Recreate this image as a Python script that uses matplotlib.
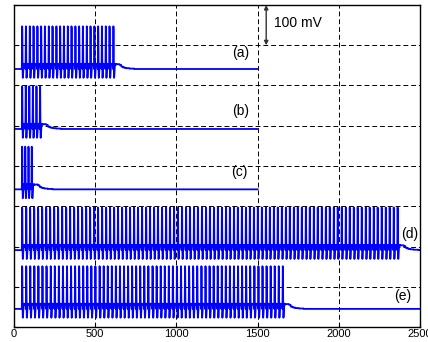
import numpy as np
import matplotlib.pyplot as plt

plt.rcParams['font.family'] = ['Liberation Sans', 'DejaVu Sans']

# spike times (ms)
spikes_a = [48, 71, 95, 118, 142, 165, 188, 212, 235, 259, 282, 305, 329, 352, 376,
            399, 422, 446, 469, 493, 516, 539, 563, 586, 610]
spikes_b = [48, 70, 92, 114, 136, 158]
spikes_c = [48, 67, 87, 107]
spikes_d = [48, 73, 97, 122, 146, 171, 196, 220, 245, 269, 294, 319, 343, 368, 392,
            417, 442, 466, 491, 515, 540, 565, 589, 614, 638, 663, 688, 712, 737, 761,
            786, 811, 835, 860, 884, 909, 934, 958, 983, 1007, 1032, 1057, 1081, 1106,
            1130, 1155, 1180, 1204, 1229, 1253, 1278, 1303, 1327, 1352, 1376, 1401,
            1426, 1450, 1475, 1499, 1524, 1549, 1573, 1598, 1622, 1647, 1672, 1696,
            1721, 1745, 1770, 1795, 1819, 1844, 1868, 1893, 1918, 1942, 1967, 1991,
            2016, 2041, 2065, 2090, 2114, 2139, 2164, 2188, 2213, 2237, 2262, 2287,
            2311, 2336, 2360]
spikes_e = [48, 73, 98, 123, 148, 173, 198, 224, 249, 274, 299, 324, 349, 374, 399,
            424, 449, 474, 499, 525, 550, 575, 600, 625, 650, 675, 700, 725, 750, 775,
            800, 825, 851, 876, 901, 926, 951, 976, 1001, 1026, 1051, 1076, 1101, 1126,
            1152, 1177, 1202, 1227, 1252, 1277, 1302, 1327, 1352, 1377, 1402, 1427,
            1452, 1478, 1503, 1528, 1553, 1578, 1603, 1628, 1653]

all_spikes = [spikes_a, spikes_b, spikes_c, spikes_d, spikes_e]
end_times = [1500, 1500, 1500, 2500, 2500]
rest_levels = [641, 492, 342, 191, 45]   # baseline of each trace (plot units, 1 unit = 1 mV)
labels = ['(a)', '(b)', '(c)', '(d)', '(e)']
label_x = [1395, 1395, 1390, 2435, 2392]
label_y = [680, 536, 385, 231, 77]

# one spike, 1 ms samples, mV relative to rest
spike_shape = [0, 60, 106, 100, 45, -5, -22, -20, -12, -4, 3, 8, 12, 13, 13, 12, 12,
               11, 11, 11, 11]
# decay after the last spike, each level held 10 ms
tail_levels = [12, 12, 10, 6, 4, 3, 2, 2, 1, 1, 1, 0]


def build_trace(spikes, end, rest):
    t = np.arange(0, end + 1)
    v = np.zeros(len(t))
    shape = np.array(spike_shape, dtype=float)
    for i, s in enumerate(spikes):
        n = min(len(shape), len(v) - s)
        v[s:s + n] = shape[:n]
        if i + 1 < len(spikes):
            v[s + n:spikes[i + 1]] = shape[-1]
        else:
            tail = np.repeat(tail_levels, 10)
            m = min(len(tail), len(v) - (s + n))
            v[s + n:s + n + m] = tail[:m]
    return t, v + rest


fig = plt.figure(figsize=(4.28, 3.42), dpi=100)
ax = fig.add_axes([14 / 428, 15 / 342, 406 / 428, 322 / 342])

for sp, end, rest in zip(all_spikes, end_times, rest_levels):
    t, v = build_trace(sp, end, rest)
    ax.plot(t, v, color='#0000ff', linewidth=1.3)

for lab, lx, ly in zip(labels, label_x, label_y):
    ax.text(lx, ly, lab, fontsize=10, ha='center', va='center')

# 100 mV scale bar
ax.annotate('', xy=(1553, 800), xytext=(1553, 700),
            arrowprops=dict(arrowstyle='<|-|>', color='#333333', lw=1.0,
                            mutation_scale=6, shrinkA=0, shrinkB=0))
ax.text(1598, 755, '100 mV', fontsize=10, ha='left', va='center')

ax.set_xlim(0, 2500)
ax.set_ylim(0, 800)
ax.set_xticks([0, 500, 1000, 1500, 2000, 2500])
ax.set_yticks(np.arange(0, 801, 100))
ax.set_yticklabels([])
ax.tick_params(direction='in', length=3, labelsize=8, width=0.8, pad=1.5)
ax.grid(True, color='black', linestyle=(0, (5, 3)), linewidth=0.7)
for s in ax.spines.values():
    s.set_linewidth(1.0)

fig.savefig('out.png', dpi=100)
